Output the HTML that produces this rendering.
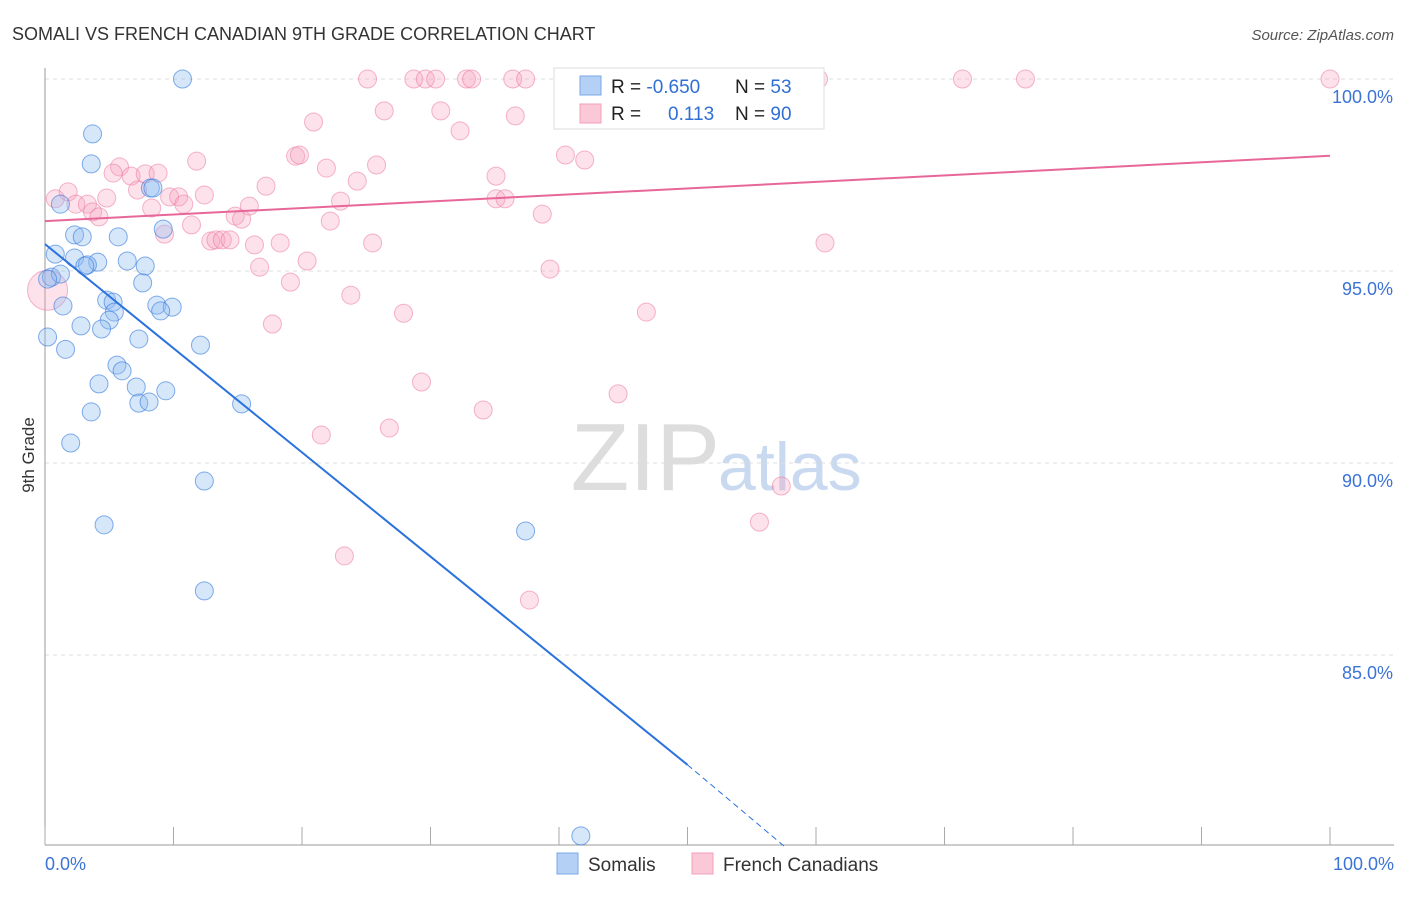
<!DOCTYPE html>
<html><head><meta charset="utf-8"><style>
body{margin:0;background:#fff;font-family:"Liberation Sans",sans-serif;}
svg text{font-family:"Liberation Sans",sans-serif;}
</style></head><body>
<svg id="c" width="1406" height="892" xmlns="http://www.w3.org/2000/svg">
<text x="12" y="40" font-size="18" fill="#333">SOMALI VS FRENCH CANADIAN 9TH GRADE CORRELATION CHART</text>
<text x="1394" y="40" font-size="15" fill="#555" font-style="italic" text-anchor="end">Source: ZipAtlas.com</text>
<text x="34" y="455" font-size="17" fill="#333" transform="rotate(-90 34 455)" text-anchor="middle">9th Grade</text>
<text x="720" y="490" font-size="96" fill="#ddd" text-anchor="end" font-family="Liberation Serif">ZIP</text>
<text x="718" y="490" font-size="68" fill="#c9d9f0">atlas</text>
<g id="grid"></g><g id="pts"></g><g id="lines"></g>
<g>
<rect x="554" y="68" width="270" height="61" fill="#fff" stroke="#ddd"/>
<rect x="580" y="76" width="21" height="19" fill="#b5d0f5" stroke="#7aa8e8"/>
<rect x="580" y="104" width="21" height="19" fill="#fbc8d8" stroke="#f0a0ba"/>
<text x="611" y="93" font-size="19" fill="#222">R = <tspan fill="#2f6fd6">-0.650</tspan><tspan x="735">N = </tspan><tspan fill="#2f6fd6">53</tspan></text>
<text x="611" y="120" font-size="19" fill="#222">R = <tspan x="668" fill="#2f6fd6">0.113</tspan><tspan x="735">N = </tspan><tspan fill="#2f6fd6">90</tspan></text>
</g>
<g>
<rect x="557" y="853" width="21" height="21" fill="#b5d0f5" stroke="#7aa8e8"/>
<text x="588" y="871" font-size="19" fill="#333">Somalis</text>
<rect x="692" y="853" width="21" height="21" fill="#fbc8d8" stroke="#f0a0ba"/>
<text x="723" y="871" font-size="19" fill="#333">French Canadians</text>
</g>
</svg>
<script>
const yTicks=[100,95,90,85];
const xTickLabels=["0.0%","100.0%"];
const somaliX=[10.7,3.7,3.6,8.2,8.4,1.2,9.2,2.3,2.9,5.7,0.8,2.3,4.1,6.4,3.3,3.1,7.8,0.5,1.2,0.2,7.6,1.4,4.8,5.3,8.7,9.9,9.0,5.4,5.0,2.8,4.4,0.2,7.3,12.1,1.6,5.6,6.0,4.2,7.1,9.4,7.3,8.1,15.3,3.6,2.0,12.4,4.6,37.4,12.4,41.7];
const somaliY=[100,98.57,97.79,97.16,97.16,96.74,96.09,95.94,95.89,95.89,95.44,95.34,95.23,95.26,95.16,95.13,95.13,94.84,94.92,94.79,94.69,94.09,94.24,94.19,94.11,94.06,93.96,93.93,93.72,93.57,93.49,93.28,93.23,93.07,92.96,92.55,92.40,92.06,91.98,91.88,91.56,91.59,91.54,91.33,90.52,89.53,88.39,88.23,86.67,80.29];
const frenchX=[25.1,28.7,29.6,30.4,32.8,33.2,36.4,37.4,44.5,47.7,48.7,60.2,71.4,76.3,100,26.4,30.8,36.6,20.9,32.3,19.5,19.8,40.5,42.0,11.8,21.9,25.8,35.1,5.8,5.3,6.7,7.8,8.8,24.3,17.2,1.8,7.2,0.8,4.8,9.7,10.4,12.4,35.1,35.8,23.0,2.4,3.3,10.8,15.9,8.3,3.7,4.2,14.8,15.3,22.2,38.7,11.4,9.3,18.3,12.9,13.3,13.8,14.4,16.3,25.5,60.7,20.4,16.7,39.3,19.1,23.8,27.9,46.8,17.7,29.3,44.6,34.1,21.5,26.8,57.3,55.6,23.3,37.7,0.2];
const frenchY=[100,100,100,100,100,100,100,100,100,100,100,100,100,100,100,99.17,99.17,99.04,98.88,98.65,97.99,98.02,98.02,97.89,97.86,97.68,97.76,97.47,97.71,97.55,97.47,97.53,97.55,97.34,97.21,97.06,97.11,96.88,96.90,96.93,96.93,96.98,96.88,96.88,96.82,96.74,96.74,96.74,96.69,96.64,96.54,96.41,96.43,96.35,96.30,96.48,96.20,95.96,95.73,95.78,95.81,95.81,95.81,95.68,95.73,95.73,95.26,95.10,95.05,94.71,94.37,93.90,93.93,93.62,92.11,91.80,91.38,90.73,90.91,89.40,88.46,87.58,86.43,94.5];
const somaliTrend=[[0,95.7],[50,82.14]];
const somaliTrendDash=[[50,82.14],[57.6,80.0]];
const frenchTrend=[[0,96.3],[100,98.0]];
const NS="http://www.w3.org/2000/svg";
const X=v=>45+v*12.85;
const Y=v=>79+(100-v)*38.4;
function mk(tag,attrs,parent){const e=document.createElementNS(NS,tag);for(const k in attrs)e.setAttribute(k,attrs[k]);parent.appendChild(e);return e;}
const grid=document.getElementById('grid');
yTicks.forEach(t=>{
 const l=mk('line',{x1:45,x2:1394,y1:Y(t),y2:Y(t),stroke:'#ddd','stroke-dasharray':'4,4'},grid);
 
 
 const tx=mk('text',{x:1393,y:Y(t)+24,'font-size':18,fill:'#3b73d6','text-anchor':'end'},grid);
 tx.textContent=t.toFixed(1)+'%';
 
 
});
const ax=mk('line',{x1:45,x2:45,y1:68,y2:845,stroke:'#999'},grid);


const bx=mk('line',{x1:45,x2:1394,y1:845,y2:845,stroke:'#999'},grid);


for(let i=0;i<=10;i++){const t=mk('line',{x1:X(i*10),x2:X(i*10),y1:827,y2:845,stroke:'#aaa'},grid);
 
 }
[[0,'start',45],[100,'end',1394]].forEach((d,i)=>{const t=mk('text',{x:d[2],y:870,'font-size':18,fill:'#3b73d6','text-anchor':d[1]},grid);t.textContent=xTickLabels[i];
 
 });
const pts=document.getElementById('pts');
frenchX.forEach((x,i)=>{const r=(i===frenchX.length-1)?20:9;const c=mk('circle',{cx:X(x),cy:Y(frenchY[i]),r:r,fill:'rgba(247,160,190,0.3)',stroke:'rgba(235,120,160,0.55)'},pts);
 
 });
somaliX.forEach((x,i)=>{const c=mk('circle',{cx:X(x),cy:Y(somaliY[i]),r:9,fill:'rgba(140,185,240,0.35)',stroke:'rgba(50,120,220,0.6)'},pts);
 
 });
const lines=document.getElementById('lines');
const l1=mk('line',{x1:X(somaliTrend[0][0]),y1:Y(somaliTrend[0][1]),x2:X(somaliTrend[1][0]),y2:Y(somaliTrend[1][1]),stroke:'#2a72dc','stroke-width':2},lines);


const l2=mk('line',{x1:X(somaliTrendDash[0][0]),y1:Y(somaliTrendDash[0][1]),x2:X(somaliTrendDash[1][0]),y2:Y(somaliTrendDash[1][1]),stroke:'#2a72dc','stroke-width':1,'stroke-dasharray':'6,4'},lines);


const l3=mk('line',{x1:X(frenchTrend[0][0]),y1:Y(frenchTrend[0][1]),x2:X(frenchTrend[1][0]),y2:Y(frenchTrend[1][1]),stroke:'#e8679a','stroke-width':2},lines);


</script>
</body></html>
